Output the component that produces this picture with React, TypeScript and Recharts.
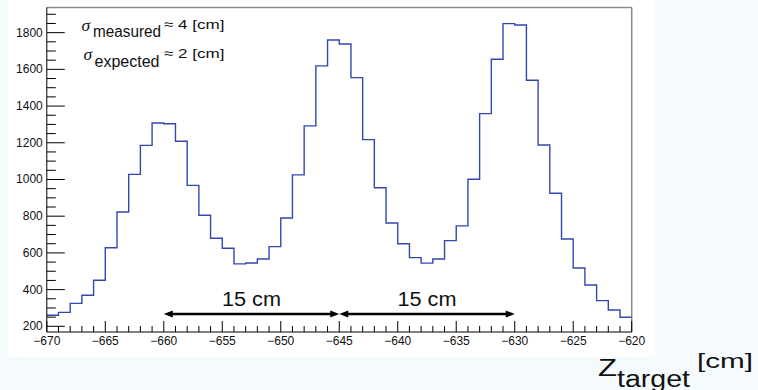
import {
	Line,
	LineChart,
	ReferenceLine,
	XAxis,
	YAxis
} from "recharts"




// Histogram bins, 1 cm wide, lower edge of each bin
const binLowEdges = [
	-670, -669, -668, -667, -666, -665, -664, -663, -662, -661,
	-660, -659, -658, -657, -656, -655, -654, -653, -652, -651,
	-650, -649, -648, -647, -646, -645, -644, -643, -642, -641,
	-640, -639, -638, -637, -636, -635, -634, -633, -632, -631,
	-630, -629, -628, -627, -626, -625, -624, -623, -622, -621
]

// Entries per bin
const counts = [
	260, 276, 325, 369, 451, 628, 823, 1028, 1186, 1308,
	1304, 1208, 968, 805, 680, 625, 540, 545, 567, 634,
	790, 1025, 1292, 1619, 1760, 1738, 1555, 1217, 955, 763,
	650, 574, 544, 567, 667, 747, 1001, 1359, 1655, 1849,
	1842, 1541, 1188, 925, 676, 518, 425, 340, 289, 249
]

const xDomain = [-670, -620]
const xTicks = [...binLowEdges, -620]

const yDomain = [169, 1937]
const yTicks = [
	200, 250, 300, 350, 400, 450, 500, 550, 600, 650, 700, 750,
	800, 850, 900, 950, 1000, 1050, 1100, 1150, 1200, 1250, 1300, 1350,
	1400, 1450, 1500, 1550, 1600, 1650, 1700, 1750, 1800, 1850, 1900
]

// Target spacing arrows
const arrowLevel = 267
const spacings = [
	{ from: -660, to: -645, label: "15 cm" },
	{ from: -645, to: -630, label: "15 cm" }
]




const FONT = "'Liberation Sans', Arial, Helvetica, sans-serif"

const histData = [
	...binLowEdges.map((z, i) => ({ z, count: counts[i] })),
	{ z: -620, count: counts[counts.length - 1] }
]

const withMinus = (v: number) => v < 0 ? `\u2212${-v}` : `${v}`




// ROOT-style ticks: drawn inward, major ones labelled
function XTick(props: any) {
	const { x, y, payload } = props
	const major = payload.value % 5 === 0

	return (
		<g>
			<line
				x1={x}
				x2={x}
				y1={y}
				y2={y - (major ? 11 : 6)}
				stroke="#000"
				strokeWidth={1}
			/>
			{major && (
				<text
					x={x}
					y={y + 13}
					textAnchor="middle"
					fontSize={12}
					fontFamily={FONT}
					fill="#111"
				>
					{withMinus(payload.value)}
				</text>
			)}
		</g>
	)
}


function YTick(props: any) {
	const { x, y, payload } = props
	const major = payload.value % 200 === 0

	return (
		<g>
			<line
				x1={x}
				x2={x + (major ? 18 : 9)}
				y1={y}
				y2={y}
				stroke="#000"
				strokeWidth={1}
			/>
			{major && (
				<text
					x={x - 4}
					y={y + 4}
					textAnchor="end"
					fontSize={12}
					fontFamily={FONT}
					fill="#111"
				>
					{payload.value}
				</text>
			)}
		</g>
	)
}


const arrowShape = (label: string) => (props: any) => {
	const { x1, y1, x2, y2 } = props
	const head = 9
	const half = 3.6

	return (
		<g>
			<line
				x1={x1 + head - 1}
				y1={y1}
				x2={x2 - head + 1}
				y2={y2}
				stroke="#000"
				strokeWidth={2.6}
			/>
			<polygon
				points={`${x1},${y1} ${x1 + head},${y1 - half} ${x1 + head},${y1 + half}`}
				fill="#000"
			/>
			<polygon
				points={`${x2},${y2} ${x2 - head},${y2 - half} ${x2 - head},${y2 + half}`}
				fill="#000"
			/>
			<text
				x={(x1 + x2) / 2}
				y={y1 - 8}
				textAnchor="middle"
				fontSize={19.5}
				fontFamily={FONT}
				fill="#111"
				textLength={59}
				lengthAdjust="spacingAndGlyphs"
			>
				{label}
			</text>
		</g>
	)
}




export default function App() {

	return (
		<div
			style={{
				position: "absolute",
				left: 0,
				top: 0,
				width: 758,
				height: 390,
				background: "#f5fbfd",
				overflow: "hidden"
			}}
		>

			<div
				style={{
					position: "absolute",
					left: 8,
					top: 0,
					width: 647,
					height: 357,
					background: "#fff"
				}}
			/>


			<div style={{ position: "absolute", left: 0, top: 0 }}>
				<LineChart
					width={758}
					height={390}
					data={histData}
					margin={{ top: 7.5, right: 126.3, bottom: 28, left: 6.8 }}
				>

					<XAxis
						dataKey="z"
						type="number"
						domain={xDomain}
						ticks={xTicks}
						interval={0}
						height={30}
						tickSize={0}
						tickMargin={0}
						tickLine={false}
						axisLine={{ stroke: "#000", strokeWidth: 1 }}
						tick={XTick}
					/>

					<YAxis
						type="number"
						domain={yDomain}
						ticks={yTicks}
						interval={0}
						width={40}
						tickSize={0}
						tickMargin={0}
						tickLine={false}
						axisLine={{ stroke: "#000", strokeWidth: 1 }}
						tick={YTick}
					/>

					{/* frame */}
					<ReferenceLine y={yDomain[1]} stroke="#8a8a8a" strokeWidth={1.5} />
					<ReferenceLine x={xDomain[1]} stroke="#8a8a8a" strokeWidth={1.5} />

					<Line
						dataKey="count"
						type="stepAfter"
						stroke="#3347b0"
						strokeWidth={1.4}
						dot={false}
						activeDot={false}
						isAnimationActive={false}
					/>

					{spacings.map((s, i) => (
						<ReferenceLine
							key={i}
							segment={[
								{ x: s.from, y: arrowLevel },
								{ x: s.to, y: arrowLevel }
							]}
							shape={arrowShape(s.label)}
						/>
					))}

				</LineChart>
			</div>


			<svg
				width={758}
				height={390}
				style={{ position: "absolute", left: 0, top: 0, pointerEvents: "none" }}
				fontFamily={FONT}
				fill="#111"
			>

				<text x={81.5} y={31} fontSize={17.5} fontStyle="italic" fontFamily="'Liberation Serif', serif">σ</text>
				<text x={93} y={36.7} fontSize={16} textLength={68} lengthAdjust="spacingAndGlyphs">measured</text>
				<text x={164} y={29} fontSize={13.5} textLength={60.5} lengthAdjust="spacingAndGlyphs">≈ 4 [cm]</text>

				<text x={83.5} y={60} fontSize={17.5} fontStyle="italic" fontFamily="'Liberation Serif', serif">σ</text>
				<text x={94.5} y={67.3} fontSize={16} textLength={65} lengthAdjust="spacingAndGlyphs">expected</text>
				<text x={164} y={58.3} fontSize={13.5} textLength={60.5} lengthAdjust="spacingAndGlyphs">≈ 2 [cm]</text>

				<text x={598} y={375.5} fontSize={23} textLength={19} lengthAdjust="spacingAndGlyphs">Z</text>
				<text x={617} y={386.5} fontSize={23} textLength={73} lengthAdjust="spacingAndGlyphs">target</text>
				<text x={697} y={368} fontSize={21} textLength={56} lengthAdjust="spacingAndGlyphs">[cm]</text>

			</svg>

		</div>
	)
}
